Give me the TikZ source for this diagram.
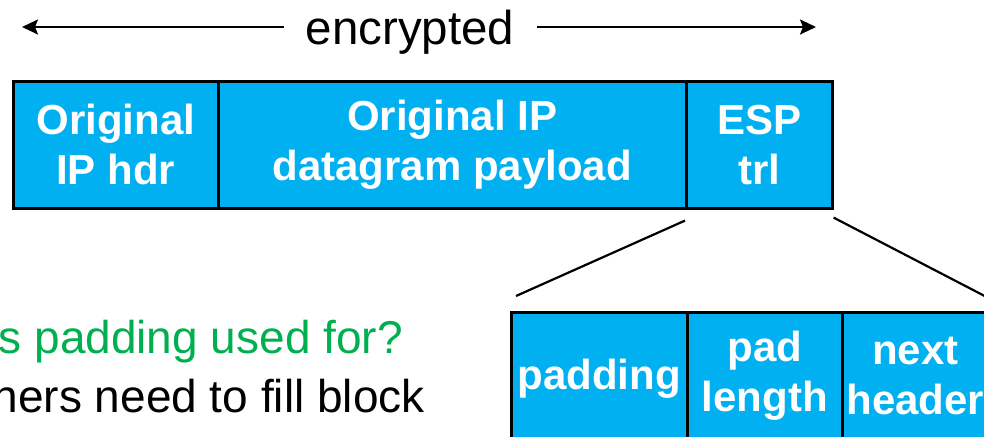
\documentclass[tikz,border=0pt]{standalone}
\usepackage{fontspec}
\setmainfont{Liberation Sans}
\usetikzlibrary{arrows.meta,positioning}
\definecolor{espblue}{RGB}{0,176,240}
\definecolor{qgreen}{RGB}{0,176,80}
\tikzset{
  field/.style={draw=black, line width=2.6pt, fill=espblue, text=white,
    font=\fontsize{42}{50}\selectfont\bfseries, align=center,
    inner sep=0pt, anchor=north west, minimum height=127pt},
  zoomline/.style={draw=black, line width=2.2pt},
  span/.style={draw=black, line width=2.2pt,
    -{Stealth[length=16pt,width=15pt,inset=3pt]}},
  note/.style={font=\fontsize{46}{54}\selectfont, anchor=base east, inner sep=0pt}
}
\begin{document}
\begin{tikzpicture}[x=1pt,y=-1pt]
  \useasboundingbox (0,0) rectangle (984,436);
  \clip (0,0) rectangle (984,436);

  % extent of the encrypted part
  \node[font=\fontsize{47.5}{56}\selectfont, anchor=base, inner sep=0pt] (enc) at (410,45) {encrypted};
  \coordinate (encL) at (22,27);
  \coordinate (encR) at (816,27);
  \draw[span] ([xshift=-22pt]enc.west |- encL) -- (encL);
  \draw[span] ([xshift=22pt]enc.east |- encR) -- (encR);

  % ESP packet body
  \node[field, minimum width=205pt] (hdr) at (12,80) {Original\\IP hdr};
  \node[field, minimum width=468pt] (payload) at (217,80) {Original IP\\datagram payload};
  \node[field, minimum width=146pt] (esp) at (685,80) {ESP\\trl};

  % ESP trailer fields
  \node[field, minimum width=176pt, text height=31pt, text depth=3pt] (pad) at (510,311) {padding};
  \node[field, minimum width=155pt] (padlen) at (686,311) {pad\\length};
  \node[field, minimum width=146pt] (next) at (841,311) {next\\header};

  % expansion of the trailer
  \coordinate (zA) at (516,296);
  \coordinate (zB) at (1002,305);
  \draw[zoomline] ([yshift=-11pt]esp.south west) -- (zA);
  \draw[zoomline] ([yshift=-8pt]esp.south east) -- (zB);

  % question about padding
  \node[note, text=qgreen] (q) at (403,353) {is padding used for?};
  \node[note] (a) at (425,412) {ciphers need to fill block};
\end{tikzpicture}
\end{document}
